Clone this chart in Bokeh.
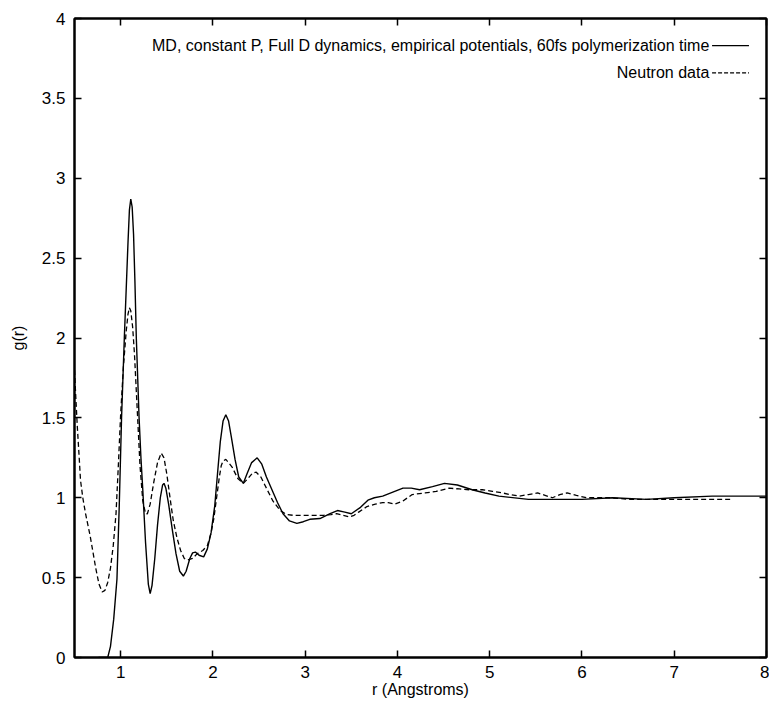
from bokeh.plotting import figure
from bokeh.models import Range1d, FixedTicker, LinearAxis, Label
from bokeh.embed import file_html
from bokeh.resources import INLINE

# ---- data ----
r_md = [0.76, 0.86, 0.89, 0.925, 0.96, 0.985, 1.01, 1.04, 1.06, 1.08,
        1.095, 1.11, 1.125, 1.14, 1.155, 1.17, 1.20, 1.22, 1.24, 1.27,
        1.30, 1.32, 1.34, 1.37, 1.40, 1.43, 1.455, 1.47, 1.49, 1.52,
        1.56, 1.60, 1.64, 1.68, 1.71, 1.75, 1.78, 1.81, 1.85, 1.90,
        1.94, 1.98, 2.02, 2.05, 2.08, 2.11, 2.14, 2.17, 2.20, 2.24,
        2.28, 2.33, 2.37, 2.42, 2.48, 2.53, 2.58, 2.64, 2.70, 2.76,
        2.83, 2.91, 2.98, 3.05, 3.16, 3.27, 3.35, 3.43, 3.50, 3.60,
        3.68, 3.75, 3.84, 3.95, 4.06, 4.15, 4.24, 4.38, 4.51, 4.65,
        4.81, 4.95, 5.10, 5.42, 5.65, 6.00, 6.33, 6.70, 7.00, 7.41, 8.00]
g_md = [0.0, 0.0, 0.07, 0.24, 0.49, 0.95, 1.5, 2.0, 2.3, 2.6,
        2.8, 2.87, 2.82, 2.65, 2.35, 2.0, 1.5, 1.25, 1.05, 0.72,
        0.46, 0.40, 0.45, 0.62, 0.83, 1.0, 1.08, 1.09, 1.06, 0.96,
        0.80, 0.65, 0.54, 0.51, 0.54, 0.62, 0.655, 0.66, 0.64, 0.63,
        0.68, 0.78, 0.95, 1.15, 1.35, 1.48, 1.52, 1.48, 1.38, 1.24,
        1.13, 1.09, 1.15, 1.22, 1.25, 1.21, 1.13, 1.05, 0.97, 0.90,
        0.855, 0.84, 0.85, 0.865, 0.87, 0.90, 0.92, 0.91, 0.90, 0.94,
        0.985, 1.0, 1.01, 1.035, 1.06, 1.06, 1.05, 1.07, 1.09, 1.08,
        1.05, 1.03, 1.01, 0.99, 0.99, 0.99, 1.0, 0.99, 1.0, 1.01, 1.01]

r_neutron = [0.5, 0.515, 0.53, 0.55, 0.565, 0.59, 0.62, 0.67, 0.70, 0.73,
             0.765, 0.8, 0.83, 0.86, 0.89, 0.92, 0.95, 0.975, 1.0, 1.03,
             1.06, 1.08, 1.095, 1.11, 1.13, 1.15, 1.18, 1.21, 1.24, 1.27,
             1.29, 1.32, 1.36, 1.40, 1.44, 1.47, 1.50, 1.54, 1.57, 1.61,
             1.65, 1.69, 1.72, 1.78, 1.83, 1.89, 1.94, 1.98, 2.01, 2.04,
             2.07, 2.09, 2.11, 2.14, 2.17, 2.21, 2.27, 2.33, 2.38, 2.43,
             2.47, 2.52, 2.58, 2.65, 2.73, 2.80, 2.87, 3.0, 3.1, 3.2,
             3.28, 3.34, 3.41, 3.48, 3.53, 3.58, 3.67, 3.76, 3.84, 3.90,
             3.97, 4.06, 4.16, 4.30, 4.42, 4.56, 4.67, 4.78, 4.92, 5.03,
             5.14, 5.22, 5.32, 5.42, 5.52, 5.60, 5.68, 5.76, 5.84, 5.94,
             6.05, 6.30, 6.51, 6.76, 7.05, 7.41, 7.62]
g_neutron = [1.8, 1.62, 1.45, 1.26, 1.11, 1.0, 0.9, 0.76, 0.66, 0.56,
             0.46, 0.41, 0.42, 0.47, 0.56, 0.70, 0.90, 1.2, 1.52, 1.82,
             2.04, 2.15, 2.19, 2.17, 2.07, 1.9, 1.55, 1.2, 0.98, 0.90,
             0.90, 0.96, 1.10, 1.22, 1.28, 1.25, 1.15, 0.98, 0.86, 0.75,
             0.67, 0.62, 0.61, 0.62, 0.65, 0.67, 0.70, 0.78, 0.87, 1.0,
             1.13, 1.20, 1.23, 1.24, 1.22, 1.19, 1.12, 1.09, 1.12, 1.155,
             1.16, 1.13, 1.06, 0.98, 0.92, 0.895, 0.89, 0.89, 0.89, 0.89,
             0.895, 0.90, 0.89, 0.88, 0.89, 0.91, 0.945, 0.96, 0.97, 0.97,
             0.96, 0.98, 1.02, 1.03, 1.04, 1.06, 1.055, 1.05, 1.05, 1.04,
             1.03, 1.02, 1.01, 1.02, 1.03, 1.015, 1.0, 1.02, 1.03, 1.015,
             1.0, 1.0, 0.99, 0.99, 0.99, 0.99, 0.99]

x_ticks = [1, 2, 3, 4, 5, 6, 7, 8]
y_ticks = [0, 0.5, 1, 1.5, 2, 2.5, 3, 3.5, 4]
y_tick_labels = ["0", "0.5", "1", "1.5", "2", "2.5", "3", "3.5", "4"]

label_md = "MD, constant P, Full D dynamics, empirical potentials, 60fs polymerization time"
label_neutron = "Neutron data"
x_title = "r (Angstroms)"
y_title = "g(r)"

FONT = "Liberation Sans"

p = figure(width=769, height=703, output_backend="svg", toolbar_location=None,
           x_range=Range1d(0.5, 8), y_range=Range1d(0, 4),
           min_border_left=74, min_border_top=18, min_border_right=3,
           min_border_bottom=46, x_axis_label=x_title, y_axis_label=y_title)
p.grid.visible = False
p.outline_line_color = "black"
p.outline_line_width = 2
p.background_fill_color = "white"
p.border_fill_color = "white"

for ax in (p.xaxis[0], p.yaxis[0]):
    ax.axis_line_width = 2
    ax.major_tick_in = 7
    ax.major_tick_out = 0
    ax.minor_tick_in = 0
    ax.minor_tick_out = 0
    ax.major_tick_line_width = 1.5
    ax.major_label_text_font = FONT
    ax.major_label_text_font_size = "17px"
    ax.major_label_text_color = "black"
    ax.axis_label_text_font = FONT
    ax.axis_label_text_font_size = "16px"
    ax.axis_label_text_font_style = "normal"
    ax.axis_label_text_color = "black"
p.xaxis[0].ticker = FixedTicker(ticks=x_ticks)
p.xaxis[0].major_label_overrides = {t: str(t) for t in x_ticks}
p.xaxis[0].major_label_standoff = 8
p.xaxis[0].axis_label_standoff = 0
p.yaxis[0].ticker = FixedTicker(ticks=y_ticks)
p.yaxis[0].major_label_overrides = {t: l for t, l in zip(y_ticks, y_tick_labels)}
p.yaxis[0].major_label_standoff = 9
p.yaxis[0].axis_label_standoff = 12

# mirror ticks on top and right (no labels)
top = LinearAxis(ticker=FixedTicker(ticks=x_ticks),
                 major_label_overrides={t: "" for t in x_ticks},
                 major_label_standoff=0, major_tick_in=7, major_tick_out=0,
                 minor_tick_in=0, minor_tick_out=0, axis_line_width=2,
                 major_tick_line_width=1.5)
right = LinearAxis(ticker=FixedTicker(ticks=y_ticks),
                   major_label_overrides={t: "" for t in y_ticks},
                   major_label_standoff=0, major_tick_in=7, major_tick_out=0,
                   minor_tick_in=0, minor_tick_out=0, axis_line_width=2,
                   major_tick_line_width=1.5)
p.add_layout(top, "above")
p.add_layout(right, "right")

p.line(r_md, g_md, line_color="black", line_width=1.4)
p.line(r_neutron, g_neutron, line_color="black", line_width=1.3, line_dash="5 3")

# legend (text right-aligned, sample line to the right, as in the original)
p.add_layout(Label(x=7.38, y=3.83, text=label_md, text_align="right",
                   text_baseline="middle", text_font=FONT, text_font_size="16px",
                   text_color="black"))
p.add_layout(Label(x=7.38, y=3.66, text=label_neutron, text_align="right",
                   text_baseline="middle", text_font=FONT, text_font_size="16px",
                   text_color="black"))
p.segment(x0=[7.41], y0=[3.83], x1=[7.81], y1=[3.83], line_color="black", line_width=1.4)
p.segment(x0=[7.41], y0=[3.66], x1=[7.81], y1=[3.66], line_color="black",
          line_width=1.2, line_dash="4 2")

open("out.html", "w").write(file_html(p, INLINE))
